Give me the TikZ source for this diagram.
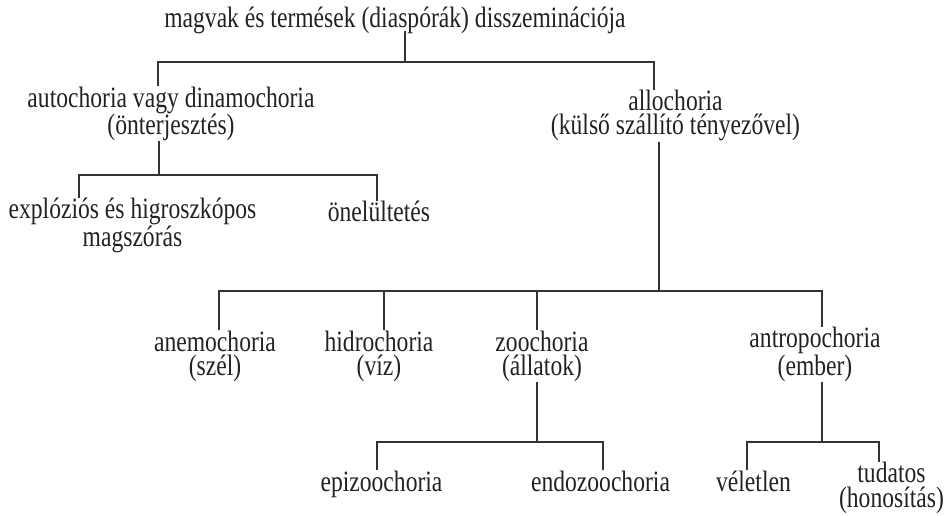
\documentclass[tikz,border=0pt]{standalone}
\usepackage{fontspec}
\setmainfont{Liberation Serif}[FakeStretch=0.8]
\definecolor{ink}{HTML}{222222}
\definecolor{wirec}{HTML}{333333}
\begin{document}
\begin{tikzpicture}[x=1pt,y=-1pt,
  lbl/.style={inner sep=0pt, anchor=base, align=center, text=ink,
    font=\fontsize{29.5}{24.5}\selectfont},
  wire/.style={draw=wirec, line width=2pt},
]
\useasboundingbox (0,0) rectangle (946,516);

% labels (anchored on the baseline of their last line)
\node[lbl] (root)  at (395,28)    {magvak és termések (diaspórák) disszeminációja};
\node[lbl] (auto)  at (171,135)   {autochoria vagy dinamochoria\\(önterjesztés)};
\node[lbl] (allo)  at (675.5,135) {allochoria\\(külső szállító tényezővel)};
\node[lbl] (expl)  at (132.5,246.5) {explóziós és higroszkópos\\magszórás};
\node[lbl] (onel)  at (379,222)   {önelültetés};
\node[lbl] (anemo) at (215,375.5) {anemochoria\\(szél)};
\node[lbl] (hidro) at (379,375.5) {hidrochoria\\(víz)};
\node[lbl] (zoo)   at (542,375.5) {zoochoria\\(állatok)};
\node[lbl] (antro) at (815,375.5) {antropochoria\\(ember)};
\node[lbl] (epi)   at (381.5,491) {epizoochoria};
\node[lbl] (endo)  at (600.5,491) {endozoochoria};
\node[lbl] (vel)   at (753.5,491) {véletlen};
\node[lbl] (tud)   at (891.5,507) {tudatos\\(honosítás)};

% junction points of the brackets
\coordinate (j1) at (405,62);  \coordinate (j1l) at (158,62);  \coordinate (j1r) at (654,62);
\coordinate (j2) at (159,175); \coordinate (j2l) at (79,175);  \coordinate (j2r) at (377,175);
\coordinate (j3) at (659,291); \coordinate (j3a) at (219,291); \coordinate (j3b) at (384,291);
\coordinate (j3c) at (537,291); \coordinate (j3d) at (822,291);
\coordinate (j4) at (537,442); \coordinate (j4l) at (377,442); \coordinate (j4r) at (603,442);
\coordinate (j5) at (822,442); \coordinate (j5l) at (747,442); \coordinate (j5r) at (879,442);

% bracket 1
\draw[wire, shorten <=-4pt] (root.south -| j1) -- (j1);
\draw[wire] (auto.north -| j1l) -- (j1l) -- (j1r) -- (allo.north -| j1r);
% bracket 2
\draw[wire] (auto.south -| j2) -- (j2);
\draw[wire] (expl.north -| j2l) -- (j2l) -- (j2r) -- (onel.north -| j2r);
% bracket 3
\draw[wire] (allo.south -| j3) -- (j3);
\draw[wire] (anemo.north -| j3a) -- (j3a) -- (j3d) -- (antro.north -| j3d);
\draw[wire] (j3b) -- (hidro.north -| j3b);
\draw[wire] (j3c) -- (zoo.north -| j3c);
% bracket 4
\draw[wire] (zoo.south -| j4) -- (j4);
\draw[wire] (epi.north -| j4l) -- (j4l) -- (j4r) -- (endo.north -| j4r);
% bracket 5
\draw[wire] (antro.south -| j5) -- (j5);
\draw[wire] (vel.north -| j5l) -- (j5l) -- (j5r) -- (tud.north -| j5r);
\end{tikzpicture}
\end{document}
